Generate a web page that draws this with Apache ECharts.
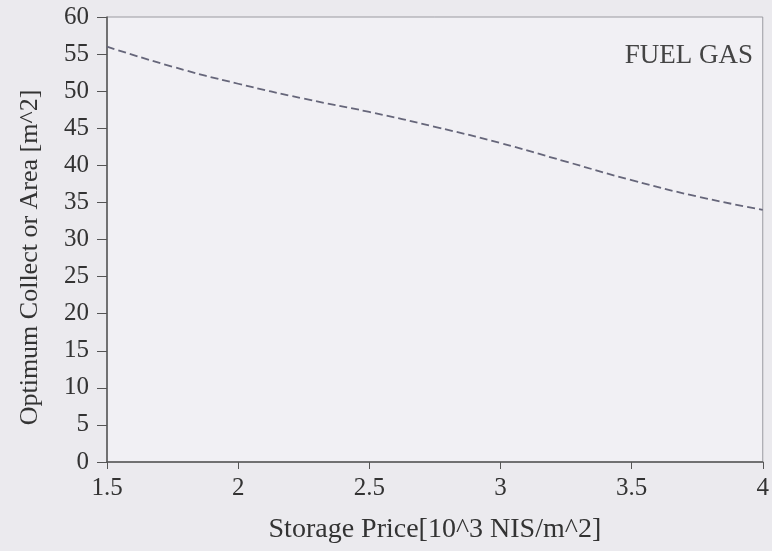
<!DOCTYPE html>
<html><head><meta charset="utf-8">
<script src="https://cdn.jsdelivr.net/npm/echarts@6/dist/echarts.min.js"></script>
<style>html,body{margin:0;padding:0;background:#ebeaee;}#c{width:772px;height:551px;}</style>
</head><body><div id="c"></div>
<script>
const storagePrice = [1.5, 1.75, 2, 2.25, 2.5, 2.75, 3, 3.25, 3.5, 3.75, 4];
const collectorArea = [56, 53.3, 51, 49, 47.2, 45.2, 43, 40.5, 38, 35.8, 34];
const seriesLabel = 'FUEL GAS';
const xTicks = [1.5, 2, 2.5, 3, 3.5, 4];
const yTicks = [0, 5, 10, 15, 20, 25, 30, 35, 40, 45, 50, 55, 60];

const chart = echarts.init(document.getElementById('c'));
const font = 'Liberation Serif';
chart.setOption({
  backgroundColor: '#ebeaee',
  animation: false,
  title: {text: seriesLabel, right: 14, top: 37, textStyle: {fontFamily: font, fontSize: 27, fontWeight: 'normal', color: '#444'}},
  grid: {left: 107, right: 8, top: 17, bottom: 89, show: true, backgroundColor: '#f1f0f4', borderColor: '#9a9aa0', borderWidth: 1},
  xAxis: {
    type: 'value', min: 1.5, max: 4, interval: 0.5,
    name: 'Storage Price[10^3 NIS/m^2]', nameLocation: 'middle', nameGap: 54,
    nameTextStyle: {fontFamily: font, fontSize: 28, color: '#333'},
    axisLine: {show: true, lineStyle: {color: '#555', width: 1.5}},
    axisTick: {show: true, length: 7, lineStyle: {color: '#555'}},
    axisLabel: {fontFamily: font, fontSize: 25, color: '#333', margin: 14, formatter: v => String(v)},
    splitLine: {show: false}
  },
  yAxis: {
    type: 'value', min: 0, max: 60, interval: 5,
    name: 'Optimum Collect or Area [m^2]', nameLocation: 'middle', nameGap: 64,
    nameTextStyle: {fontFamily: font, fontSize: 26, color: '#333', padding: [0, 36, 0, 0]},
    axisLine: {show: true, lineStyle: {color: '#555', width: 1.5}},
    axisTick: {show: true, length: 10, lineStyle: {color: '#555'}},
    axisLabel: {fontFamily: font, fontSize: 25, color: '#333', margin: 18},
    splitLine: {show: false}
  },
  series: [{
    type: 'line', name: seriesLabel, smooth: true, symbol: 'none',
    data: storagePrice.map((x, i) => [x, collectorArea[i]]),
    lineStyle: {color: '#66667a', width: 1.8, type: [8, 4]}
  }]
});
</script></body></html>
